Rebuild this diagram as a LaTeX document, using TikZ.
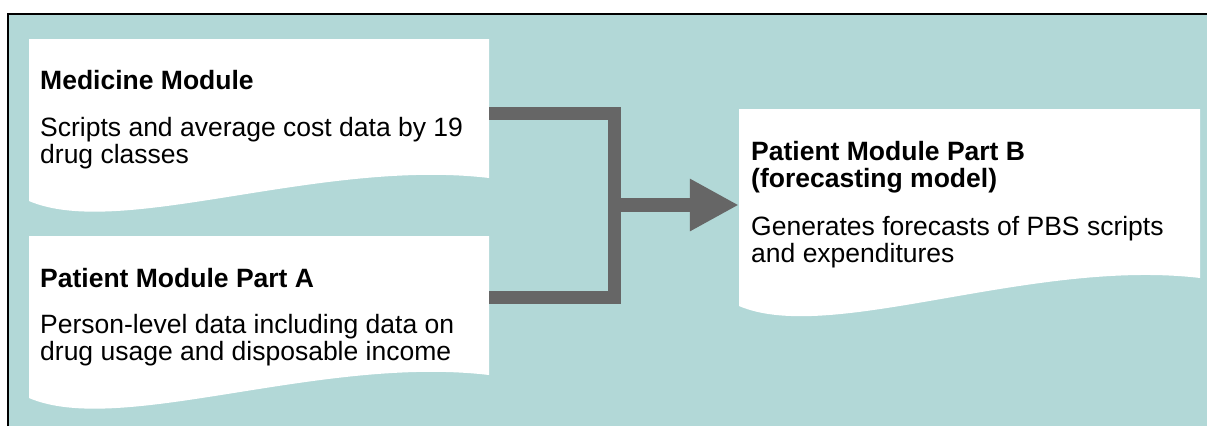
\documentclass[tikz,border=0pt]{standalone}
\usepackage{fontspec}
\setmainfont{Liberation Sans}
\usetikzlibrary{arrows.meta}
\definecolor{panel}{RGB}{178,216,215}
\definecolor{flow}{RGB}{102,102,102}
\tikzset{
  doc/.style={fill=white, draw=none},
  anchorbox/.style={draw=none, inner sep=0pt, minimum width=#1},
  txt/.style={anchor=base west, inner sep=0pt, font=\fontsize{26.5pt}{27pt}\selectfont},
  head/.style={txt, font=\fontsize{26.5pt}{27pt}\selectfont\bfseries},
  link/.style={draw=flow, line width=13pt, line join=miter},
  feed/.style={draw=flow, line width=14pt, -{Triangle[width=49pt,length=49pt]}}
}
\begin{document}
\begin{tikzpicture}[x=1pt,y=-1pt]
  \useasboundingbox (0,0) rectangle (1207,426);
  \fill[white] (0,0) rectangle (1207,426);
  % panel background with its top and left rule
  \fill[panel] (8,14) rectangle (1207,426);
  \draw[line width=1.5pt] (8,426) -- (8,14) -- (1207,14);

  % document-shaped cards
  \path[doc] (29,39) -- (489,39) -- (489,178)
     .. controls (320,158) and (120,240) .. (29,201) -- cycle;
  \path[doc] (29,236) -- (489,236) -- (489,375)
     .. controls (320,355) and (120,437) .. (29,398) -- cycle;
  \path[doc] (739,109) -- (1200,109) -- (1200,278)
     .. controls (1031,258) and (830,345) .. (739,306) -- cycle;

  % reference frames of the cards
  \node[anchorbox=460pt, minimum height=162pt] (med) at (259,120) {};
  \node[anchorbox=460pt, minimum height=162pt] (pa) at (259,317) {};
  \node[anchorbox=461pt, minimum height=192pt] (pb) at (969.5,205) {};

  % Medicine Module
  \node[head] at (40,89) {Medicine Module};
  \node[txt] at (40,136) {Scripts and average cost data by 19};
  \node[txt] at (40,163) {drug classes};

  % Patient Module Part A
  \node[head] at (40,287) {Patient Module Part A};
  \node[txt] at (40,333) {Person-level data including data on};
  \node[txt] at (40,360) {drug usage and disposable income};

  % Patient Module Part B
  \node[head] at (751,160) {Patient Module Part B};
  \node[head] at (751,187) {(forecasting model)};
  \node[txt] at (751,235) {Generates forecasts of PBS scripts};
  \node[txt] at (751,262) {and expenditures};

  % connectors
  \coordinate (medout) at (med.east |- 0,113);
  \coordinate (paout) at (pa.east |- 0,297.5);
  \coordinate (join) at (614.5,205);
  \draw[link] (medout) -| (join) |- (paout);
  \draw[feed] (join) -- (pb.west);
\end{tikzpicture}
\end{document}
